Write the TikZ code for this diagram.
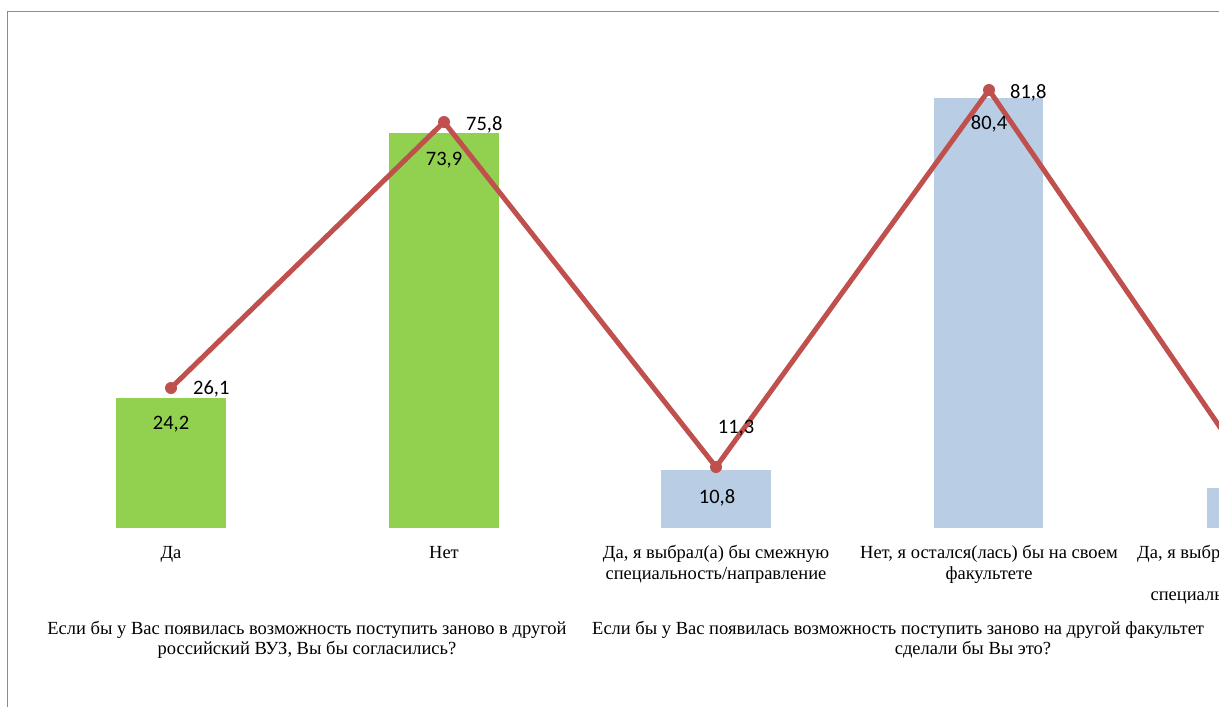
\documentclass[tikz,border=0pt]{standalone}
\usepackage{fontspec}
\setmainfont{Liberation Serif}
\newfontfamily\numfont{Carlito}
\definecolor{bargreen}{HTML}{92D050}
\definecolor{barblue}{HTML}{B9CDE5}
\definecolor{linered}{HTML}{C0504D}
\definecolor{framegray}{HTML}{8C8C8C}
\tikzset{
  catlabel/.style={anchor=base, inner sep=0pt, font=\fontsize{18.5}{21}\selectfont},
  catlabelw/.style={catlabel, anchor=base west},
  numlabel/.style={anchor=base, inner sep=0pt, font=\numfont\fontsize{20.5}{24}\selectfont},
  numlabelw/.style={numlabel, anchor=base west},
  greenbar/.style={fill=bargreen, draw=none},
  bluebar/.style={fill=barblue, draw=none},
  series/.style={draw=linered, line width=5pt, line join=round},
  dot/.style={circle, fill=linered, inner sep=0pt, minimum size=12pt},
}
\begin{document}
\begin{tikzpicture}[x=1pt, y=-1pt]
\useasboundingbox (0,0) rectangle (1219,707);
\fill[white] (0,0) rectangle (1219,707);
\clip (0,0) rectangle (1219,707);
% frame
\draw[framegray, line width=1.5pt] (7.5,707) -- (7.5,11.5) -- (1225,11.5);
% bars
\fill[greenbar] (116,398) rectangle (226,528);
\fill[greenbar] (389,133) rectangle (499,528);
\fill[bluebar] (661,470) rectangle (771,528);
\fill[bluebar] (934,98) rectangle (1043,528);
\fill[bluebar] (1207,488) rectangle (1317,528);
% series
\coordinate (p1) at (171,388);
\coordinate (p2) at (444,122);
\coordinate (p3) at (716,467);
\coordinate (p4) at (989,90);
\coordinate (p5) at (1261,487);
\draw[series] (p1) -- (p2) -- (p3) -- (p4) -- (p5);
\node[dot] (d1) at (p1) {};
\node[dot] (d2) at (p2) {};
\node[dot] (d3) at (p3) {};
\node[dot] (d4) at (p4) {};
% line labels
\node[numlabelw] (l1) at (193,394.5) {26,1};
\node[numlabelw] (l2) at (466,130.5) {75,8};
\node[numlabel] (l3) at (736,433.5) {11,3};
\node[numlabelw] (l4) at (1010,98.5) {81,8};
% bar labels
\node[numlabel] (b1) at (171,429.5) {24,2};
\node[numlabel] (b2) at (444,165.5) {73,9};
\node[numlabel] (b3) at (717,503.5) {10,8};
\node[numlabel] (b4) at (989,129.5) {80,4};
% category labels
\node[catlabel] (c1) at (171,558) {Да};
\node[catlabel] (c2) at (444,558) {Нет};
\node[catlabel] (c3a) at (716,558) {Да, я выбрал(а) бы смежную};
\node[catlabel] (c3b) at (716,579) {специальность/направление};
\node[catlabel] (c4a) at (989,558) {Нет, я остался(лась) бы на своем};
\node[catlabel] (c4b) at (989,579) {факультете};
\node[catlabelw] (c5a) at (1137,558) {Да, я выбрал(а) бы другую};
\node[catlabel] (c5c) at (1261,600) {специальность/направление};
% group labels
\node[catlabel] (g1a) at (307,634) {Если бы у Вас появилась возможность поступить заново в другой};
\node[catlabel] (g1b) at (307,654) {российский ВУЗ, Вы бы согласились?};
\node[catlabelw] (g2a) at (592,634) {Если бы у Вас появилась возможность поступить заново на другой факультет};
\node[catlabel] (g2b) at (973,654) {сделали бы Вы это?};
\end{tikzpicture}
\end{document}
